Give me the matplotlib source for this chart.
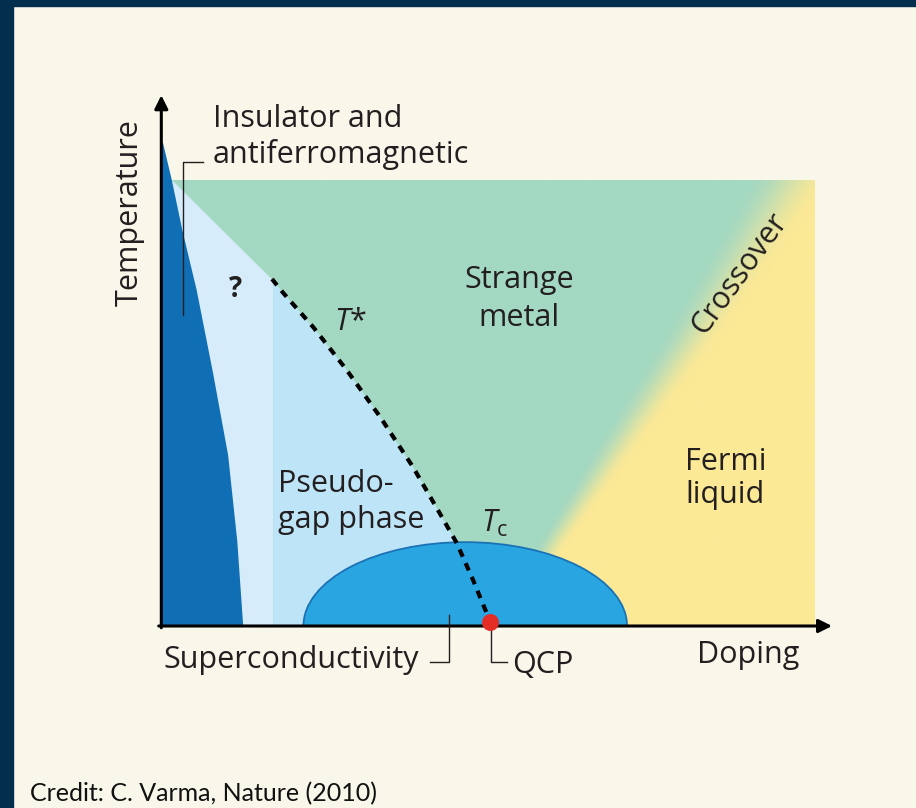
import numpy as np
import matplotlib
matplotlib.use("Agg")
import matplotlib.pyplot as plt
from matplotlib.patches import Polygon, Ellipse, Rectangle

plt.rcParams['font.family'] = ['Open Sans', 'DejaVu Sans']
plt.rcParams['mathtext.fontset'] = 'custom'
plt.rcParams['mathtext.rm'] = 'Open Sans'
plt.rcParams['mathtext.it'] = 'Open Sans:italic'

# -----------------------------
# COLOURS
# -----------------------------
bg = '#f9f6ea'
navy = '#042e4e'
green = '#a3d8c2'
yellow = '#fce996'
pale = '#d6ecfa'
pseudo = '#bee4f7'
af_blue = '#106eb4'
dome_blue = '#29a6e1'
dome_edge = '#1a72b5'
qcp_red = '#e52d27'
ink = '#231f20'

# -----------------------------
# DATA (doping 0..1, temperature 0..1 = top of the coloured box)
# -----------------------------
# antiferromagnetic insulator boundary, top to bottom
af_doping = [0.0046, 0.018, 0.034, 0.056, 0.081, 0.104, 0.118, 0.127]
af_temp = [1.083, 1.0, 0.888, 0.753, 0.567, 0.383, 0.19, 0.0]

# edge of the "?" strip
strip_doping = 0.173
strip_top = [0.018, 1.0]

# T* line down to the quantum critical point
tstar_doping = [0.171, 0.188, 0.234, 0.285, 0.336, 0.386, 0.427, 0.453, 0.478, 0.504]
tstar_temp = [0.778, 0.747, 0.670, 0.574, 0.469, 0.357, 0.253, 0.186, 0.103, 0.01]
qcp = [0.504, 0.01]

# superconducting dome
dome_center = 0.466
dome_halfwidth = 0.247
dome_height = 0.188

# crossover strange metal -> Fermi liquid
cross_temp = [0.16, 0.186, 0.446, 0.635, 0.821, 1.0]
cross_doping = [0.59, 0.60, 0.718, 0.805, 0.885, 0.962]

# -----------------------------
# FIGURE
# -----------------------------
fig = plt.figure(figsize=(9.16, 8.08), dpi=100, facecolor=bg)
ax = fig.add_axes([0, 0, 1, 1])
ax.set_xlim(-160 / 655, 756 / 655)
ax.set_ylim(-182 / 446, 626 / 446)
ax.axis('off')

# frame
fig.patches.append(Rectangle((0, 0), 13 / 916, 1, transform=fig.transFigure, color=navy))
fig.patches.append(Rectangle((0, 1 - 6 / 808), 1, 6 / 808, transform=fig.transFigure, color=navy))

# strange metal / Fermi liquid gradient
dd, tt = np.meshgrid(np.linspace(0, 1, 600), np.linspace(0, 1, 600))
mid = np.interp(tt, cross_temp, cross_doping)
width = 0.03 + 0.10 * tt
w = np.clip((dd - mid) / width + 0.5, 0, 1)
w = w * w * (3 - 2 * w)
c1 = np.array(matplotlib.colors.to_rgb(green))
c2 = np.array(matplotlib.colors.to_rgb(yellow))
img = c1[None, None, :] * (1 - w[..., None]) + c2[None, None, :] * w[..., None]
im = ax.imshow(img, extent=[0, 1, 0, 1], origin='lower', aspect='auto',
               interpolation='bilinear', zorder=1)
box = Rectangle((0, 0), 1, 1, transform=ax.transData, visible=False)
ax.add_patch(box)
im.set_clip_path(box)

# "?" strip
t_strip = np.interp(strip_doping, tstar_doping, tstar_temp)
ax.add_patch(Polygon([strip_top, (strip_doping, t_strip), (strip_doping, 0), (0, 0), (0, 1.0)],
                     closed=True, fc=pale, ec='none', zorder=2))

# pseudogap
pg = [(strip_doping, t_strip)] + [(d, t) for d, t in zip(tstar_doping, tstar_temp) if d > strip_doping]
pg += [(qcp[0], 0), (strip_doping, 0)]
ax.add_patch(Polygon(pg, closed=True, fc=pseudo, ec='none', zorder=3))

# antiferromagnet
af = list(zip(af_doping, af_temp)) + [(0, 0), (0, af_temp[0])]
ax.add_patch(Polygon(af, closed=True, fc=af_blue, ec='none', zorder=4))

# superconducting dome
dome = Ellipse((dome_center, 0), 2 * dome_halfwidth, 2 * dome_height,
               fc=dome_blue, ec=dome_edge, lw=1.3, zorder=5)
ax.add_patch(dome)
clip = Rectangle((-1, 0), 3, 3, transform=ax.transData, visible=False)
ax.add_patch(clip)
dome.set_clip_path(clip)

# T* line
ax.plot(tstar_doping, tstar_temp, color='black', lw=3.0,
        dashes=(1.9, 1.7), zorder=6)

# axes with arrows
ax.annotate('', xy=(0.002, 1.19), xytext=(0.002, -0.004),
            arrowprops=dict(arrowstyle='-|>', lw=2.2, color='black', mutation_scale=20,
                            shrinkA=0, shrinkB=0), zorder=7)
ax.annotate('', xy=(1.026, 0), xytext=(-0.002, 0),
            arrowprops=dict(arrowstyle='-|>', lw=2.2, color='black', mutation_scale=20,
                            shrinkA=0, shrinkB=0), zorder=7)

# QCP
ax.scatter([qcp[0]], [qcp[1]], s=150, color=qcp_red, zorder=8, linewidths=0)

# leader lines
ax.plot([0.035, 0.035, 0.066], [0.697, 1.040, 1.040], color=ink, lw=1.0, zorder=7)
ax.plot([0.412, 0.441, 0.441], [-0.081, -0.081, 0.025], color=ink, lw=1.0, zorder=7)
ax.plot([0.505, 0.505, 0.530], [-0.004, -0.081, -0.081], color=ink, lw=1.0, zorder=7)

# -----------------------------
# LABELS
# -----------------------------
fs = 22
ax.text(0.081, 1.119, 'Insulator and', fontsize=fs, color=ink, va='baseline', zorder=9)
ax.text(0.081, 1.038, 'antiferromagnetic', fontsize=fs, color=ink, va='baseline', zorder=9)
ax.text(0.115, 0.738, '?', fontsize=20, fontweight='bold', color=ink, ha='center', va='baseline', zorder=9)
ax.text(0.290, 0.664, r'$T$*', fontsize=fs, color=ink, ha='center', va='baseline', zorder=9)
ax.text(0.548, 0.758, 'Strange', fontsize=fs, color=ink, ha='center', va='baseline', zorder=9)
ax.text(0.548, 0.673, 'metal', fontsize=fs, color=ink, ha='center', va='baseline', zorder=9)
ax.text(0.885, 0.790, 'Crossover', fontsize=fs, color=ink, ha='center', va='center',
        rotation=54, rotation_mode='anchor', zorder=9)
ax.text(0.863, 0.350, 'Fermi', fontsize=fs, color=ink, ha='center', va='baseline', zorder=9)
ax.text(0.863, 0.276, 'liquid', fontsize=fs, color=ink, ha='center', va='baseline', zorder=9)
ax.text(0.180, 0.300, 'Pseudo-', fontsize=fs, color=ink, va='baseline', zorder=9)
ax.text(0.180, 0.220, 'gap phase', fontsize=fs, color=ink, va='baseline', zorder=9)
ax.text(0.490, 0.211, r'$T_{\mathrm{c}}$', fontsize=fs, color=ink, va='baseline', zorder=9)
ax.text(0.006, -0.094, 'Superconductivity', fontsize=fs, color=ink, va='baseline', zorder=9)
ax.text(0.537, -0.105, 'QCP', fontsize=fs, color=ink, va='baseline', zorder=9)
ax.text(0.820, -0.083, 'Doping', fontsize=fs, color=ink, va='baseline', zorder=9)
ax.text(-0.046, 0.928, 'Temperature', fontsize=fs, color=ink, ha='center', va='center',
        rotation=90, zorder=9)

fig.text(30 / 916, 1 - 801 / 808, 'Credit: C. Varma, Nature (2010)', fontsize=18,
         family=['Lato', 'DejaVu Sans'], color='#111111', va='baseline')

fig.savefig('out.png', dpi=100, facecolor=bg)
